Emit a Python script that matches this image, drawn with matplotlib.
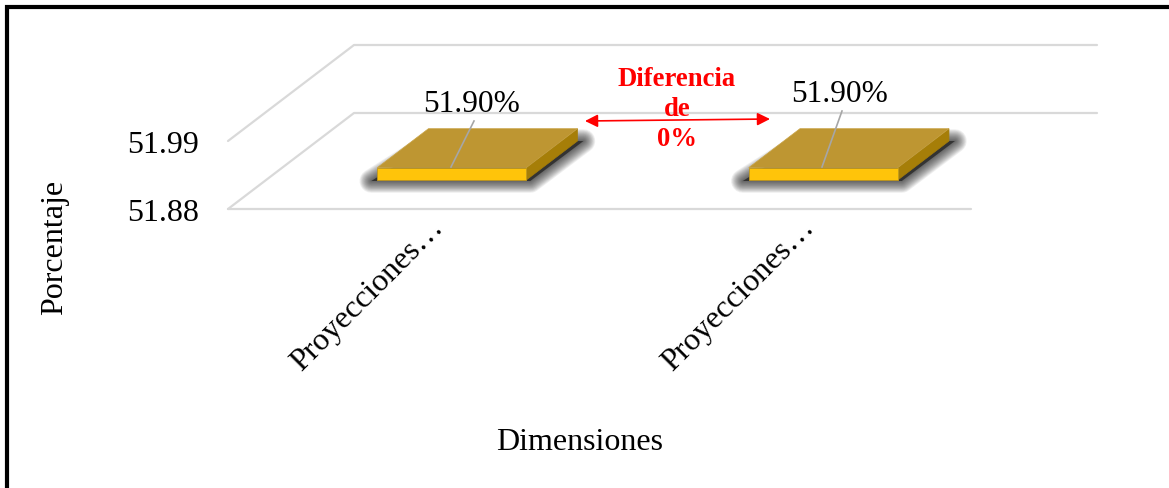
import matplotlib
matplotlib.use("Agg")
import matplotlib.pyplot as plt
from matplotlib.patches import Polygon, FancyArrowPatch
from matplotlib.transforms import ScaledTranslation

W, H = 1169, 489

# ===== data =====
categories = ["Proyecciones…", "Proyecciones…"]
values = [51.90, 51.90]
value_labels = ["51.90%", "51.90%"]
y_ticks = [51.88, 51.99]
y_tick_labels = ["51.88", "51.99"]
note_lines = ["Diferencia", "de", "0%"]

plt.rcParams["font.family"] = ["Liberation Serif", "DejaVu Sans"]

# plot box = front plane of the 3D chart, in pixels
L, R, B, T = 228, 971, 210, 142
fig = plt.figure(figsize=(W / 100, H / 100), dpi=100, facecolor="white")
ax = fig.add_axes([L / W, 1 - B / H, (R - L) / W, (B - T) / H])
ax.set_xlim(-0.5, 1.5)
ax.set_ylim(y_ticks[0], y_ticks[1])
ax.patch.set_alpha(0)
for s in ax.spines.values():
    s.set_visible(False)

px_x = (R - L) / 2
px_y = (B - T) / (y_ticks[1] - y_ticks[0])
DX = 126 / px_x   # full depth of the floor, data units
DY = 96 / px_y


def proj(x, y, d):
    return (x + DX * d, y + DY * d)


def pxfig(x, y):
    return (x / W, 1 - y / H)


# walls / gridlines
grid = dict(color="#D9D9D9", lw=1.6, clip_on=False, zorder=1, solid_capstyle="round")
for yt in y_ticks:
    p0 = proj(-0.5, yt, 0)
    p1 = proj(-0.5, yt, 1)
    p2 = proj(1.5, yt, 1)
    ax.plot([p0[0], p1[0], p2[0]], [p0[1], p1[1], p2[1]], **grid)
ax.plot([-0.5, 1.5], [y_ticks[0], y_ticks[0]], **grid)

# bars
BAR_W = 149 / px_x
D0, D1 = 0.302, 0.708
base = y_ticks[0]
for i, v in enumerate(values):
    x0, x1 = i - BAR_W / 2, i + BAR_W / 2
    a = proj(x0, base, D0)
    b = proj(x1, base, D0)
    c = proj(x1, v, D0)
    d = proj(x0, v, D0)
    e = proj(x1, v, D1)
    f = proj(x0, v, D1)
    g = proj(x1, base, D1)

    # soft shadow: stacked translucent outlines, widest first
    ux, uy = 1 / px_x, 1 / px_y
    s_pts = [(a[0] - 6 * ux, a[1] - 1 * uy),
             (b[0] + 4 * ux, b[1] - 1 * uy),
             (g[0] + 6 * ux, g[1]),
             (f[0] + 6 * ux, g[1])]
    for n in range(16):
        lw = 17 - n * 1.1
        ax.add_patch(Polygon(s_pts, closed=True, facecolor="none", edgecolor="#111111",
                             lw=lw, alpha=0.06, joinstyle="round", clip_on=False, zorder=2))
    ax.add_patch(Polygon(s_pts, closed=True, facecolor="#333333", edgecolor="none",
                         clip_on=False, zorder=2))

    ax.add_patch(Polygon([b, g, e, c], closed=True, facecolor="#A67E08", edgecolor="#A67E08",
                         lw=0.5, clip_on=False, zorder=3))
    ax.add_patch(Polygon([d, c, e, f], closed=True, facecolor="#BE9632", edgecolor="#C9A448",
                         lw=0.5, clip_on=False, zorder=3))
    ax.add_patch(Polygon([a, b, c, d], closed=True, facecolor="#FFC40A", edgecolor="#C29A1E",
                         lw=0.6, clip_on=False, zorder=4))

# data labels with leader lines
label_px = [(472, 105), (840, 95)]
leader_px = [((451, 168), (474, 122)), ((822, 168), (842, 112))]
for lab, (lx, ly), (p, q) in zip(value_labels, label_px, leader_px):
    fig.text(*pxfig(lx, ly), lab, fontsize=22.6, ha="center", va="center", color="black", zorder=6)
    fig.add_artist(plt.Line2D([p[0] / W, q[0] / W], [1 - p[1] / H, 1 - q[1] / H],
                              color="#A6A6A6", lw=1.2, zorder=5))

# axes ticks and labels
ax.set_yticks(y_ticks)
ax.set_yticklabels(y_tick_labels, fontsize=23)
ax.tick_params(axis="y", length=0, pad=21)
ax.set_xticks(range(len(categories)))
ax.set_xticklabels(categories, fontsize=23, rotation=45, ha="right", va="top",
                   rotation_mode="anchor")
ax.tick_params(axis="x", length=0, pad=2)
shift = ScaledTranslation(15 / 100, 0, fig.dpi_scale_trans)
for t in ax.get_xticklabels():
    t.set_transform(t.get_transform() + shift)

ax.set_xlabel("Dimensiones", fontsize=23)
ax.xaxis.set_label_coords((580 - L) / (R - L), (B - 443) / (B - T), transform=ax.transAxes)
ax.xaxis.label.set_va("center")
ax.set_ylabel("Porcentaje", fontsize=23)
ax.yaxis.set_label_coords((55 - L) / (R - L), (B - 247) / (B - T), transform=ax.transAxes)
ax.yaxis.label.set_va("center")

# red note and arrow
for line, ty in zip(note_lines, [79, 110, 140]):
    fig.text(*pxfig(677, ty), line, color="#FF0000", fontsize=19.2, fontweight="bold",
             ha="center", va="center", zorder=7)
arrow = FancyArrowPatch(pxfig(585, 122), pxfig(770, 120), transform=fig.transFigure,
                        arrowstyle="<|-|>", mutation_scale=19, color="#FF0000",
                        lw=1.2, shrinkA=0, shrinkB=0, zorder=7)
fig.add_artist(arrow)

# outer border: only left and top edges are inside the picture
fig.add_artist(plt.Line2D([7 / W, 7 / W, 1.01], [-0.01, 1 - 8 / H, 1 - 8 / H], color="black",
                          lw=3, solid_joinstyle="miter"))

fig.savefig("out.png", dpi=100)
